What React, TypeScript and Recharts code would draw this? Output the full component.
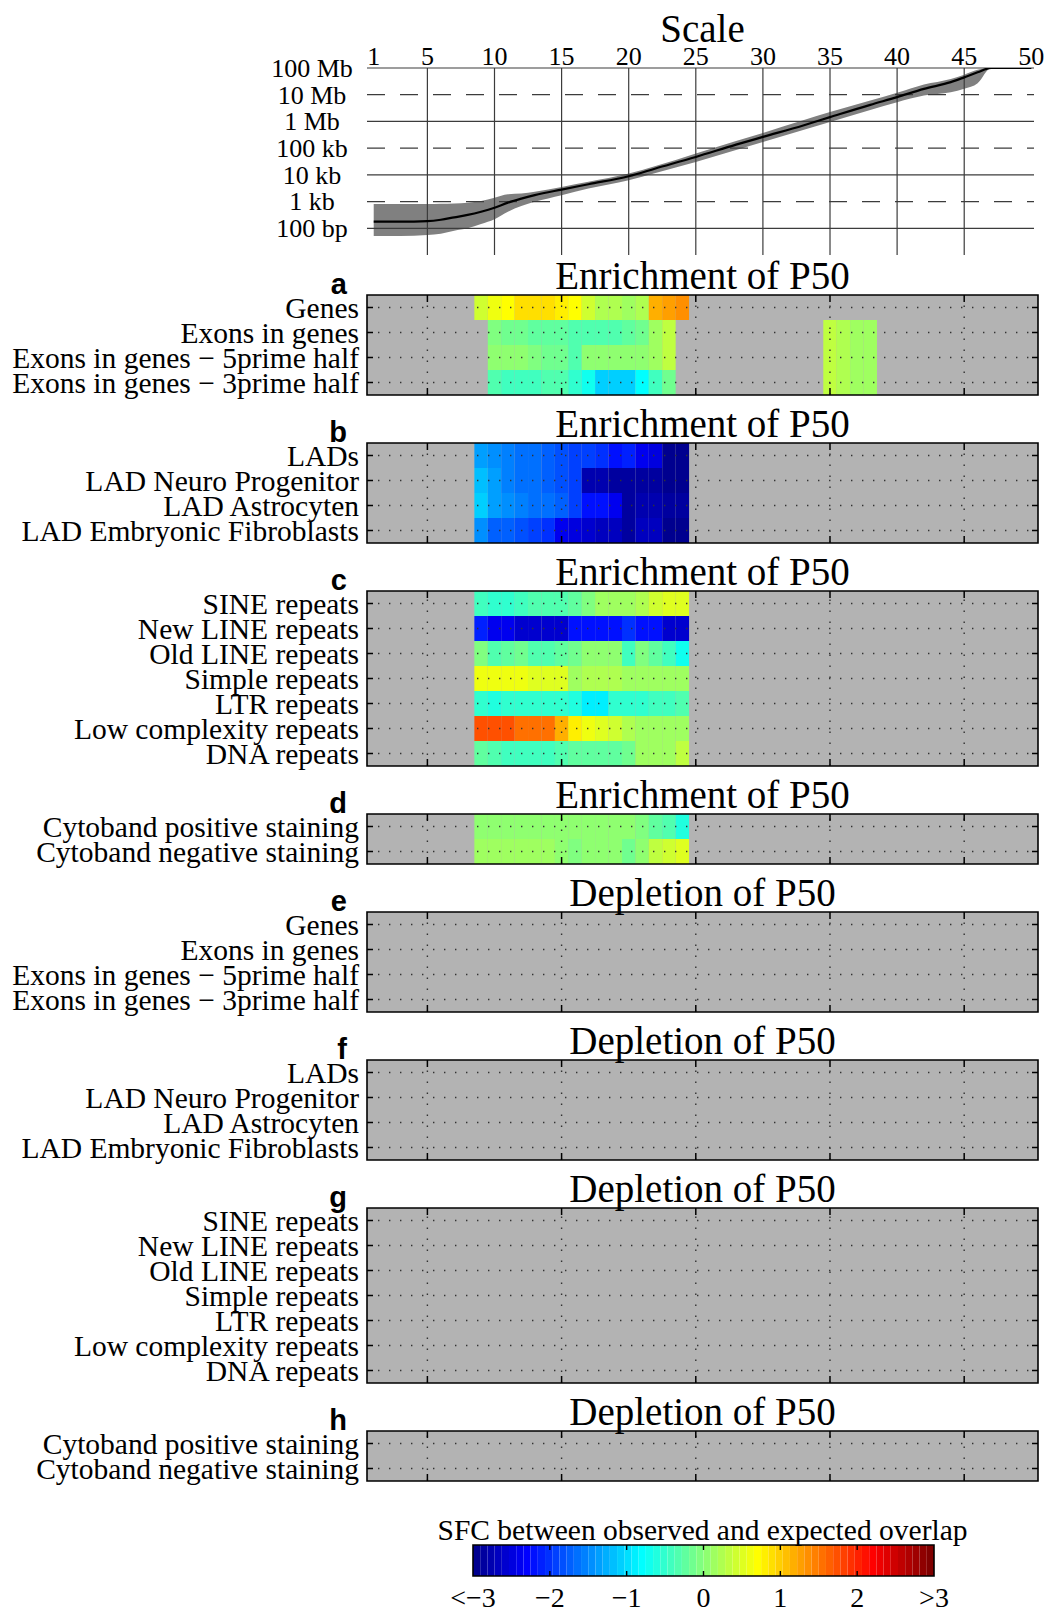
import React from "react";
import { ComposedChart, XAxis, YAxis, ReferenceArea, ReferenceLine, Area, Line } from "recharts";

// scale panel: log10(bp) of the segment size for each scale level
const scaleX = [1, 3, 5, 6, 7, 8, 9, 10, 11, 12, 13, 15, 17, 20, 22, 25, 28, 30, 33, 35, 38, 40, 42, 44, 45, 46, 47, 50];
const scaleMid = [2.25, 2.25, 2.27, 2.32, 2.41, 2.5, 2.62, 2.77, 2.96, 3.11, 3.24, 3.45, 3.65, 3.95, 4.24, 4.67, 5.13, 5.42, 5.85, 6.16, 6.62, 6.91, 7.22, 7.47, 7.65, 7.84, 8, 8];
const scaleLo = [1.71, 1.71, 1.75, 1.8, 1.91, 2.0, 2.16, 2.34, 2.62, 2.83, 2.99, 3.24, 3.49, 3.8, 4.07, 4.48, 4.93, 5.23, 5.68, 5.98, 6.43, 6.72, 6.97, 7.09, 7.22, 7.43, 8, 8];
const scaleHi = [2.91, 2.91, 2.91, 2.92, 2.93, 2.96, 3.02, 3.14, 3.27, 3.3, 3.37, 3.55, 3.74, 4.05, 4.33, 4.8, 5.27, 5.57, 6.04, 6.35, 6.78, 7.07, 7.38, 7.59, 7.75, 7.93, 8, 8];
const scaleTicksX = [1, 5, 10, 15, 20, 25, 30, 35, 40, 45, 50];
const scaleTicksY = [2, 3, 4, 5, 6, 7, 8];
const scaleTickLabels = ["100 bp", "1 kb", "10 kb", "100 kb", "1 Mb", "10 Mb", "100 Mb"];

// heatmap rows: list of [first column, values...]
type Seg = [number, number[]];
const geneLabels = ["Genes", "Exons in genes", "Exons in genes − 5prime half", "Exons in genes − 3prime half"];
const ladLabels = ["LADs", "LAD Neuro Progenitor", "LAD Astrocyten", "LAD Embryonic Fibroblasts"];
const repeatLabels = ["SINE repeats", "New LINE repeats", "Old LINE repeats", "Simple repeats", "LTR repeats", "Low complexity repeats", "DNA repeats"];
const cytoLabels = ["Cytoband positive staining", "Cytoband negative staining"];

const aGenes: Seg[] = [[9, [0.42, 0.62, 0.66, 0.86, 0.93, 0.89, 0.84, 0.66, 0.38, 0.19, 0.24, 0.15, 0.19, 1.13, 1.22, 1.35]]];
const aExons: Seg[] = [[10, [-0.05, -0.1, -0.1, -0.2, -0.25, -0.25, -0.3, -0.3, -0.3, -0.3, -0.25, -0.1, 0.1, 0.3]], [35, [0.33, 0.24, 0.15, 0.1]]];
const aExons5: Seg[] = [[10, [0, 0, 0, -0.05, -0.1, -0.1, -0.3, 0, 0, 0, 0, 0, 0.15, 0.3]], [35, [0.33, 0.24, 0.15, 0.1]]];
const aExons3: Seg[] = [[10, [-0.3, -0.4, -0.45, -0.45, -0.3, -0.35, -0.5, -0.75, -1.05, -1.1, -1.05, -0.8, -0.4, -0.1]], [35, [0.33, 0.24, 0.15, 0.1]]];

const bLads: Seg[] = [[9, [-1.35, -1.5, -1.55, -1.6, -1.68, -1.75, -1.8, -1.88, -1.95, -2.05, -2.2, -2.1, -2.43, -2.52, -2.93, -2.93]]];
const bNeuro: Seg[] = [[9, [-1.17, -1.4, -1.55, -1.6, -1.65, -1.7, -1.8, -1.9, -2.76, -2.76, -2.9, -2.9, -2.9, -2.9, -3, -3]]];
const bAstro: Seg[] = [[9, [-1.1, -1.35, -1.45, -1.55, -1.6, -1.65, -1.75, -1.9, -2.25, -2.2, -2.4, -2.85, -2.8, -2.8, -2.9, -2.9]]];
const bFibro: Seg[] = [[9, [-1.5, -1.7, -1.75, -1.85, -1.95, -2.05, -2.35, -2.5, -2.6, -2.65, -2.7, -2.85, -2.65, -2.7, -3, -3]]];

const cSine: Seg[] = [[9, [-0.4, -0.55, -0.5, -0.4, -0.3, -0.35, -0.3, -0.2, -0.05, 0.1, 0.15, 0.15, 0.25, 0.4, 0.55, 0.55]]];
const cNewLine: Seg[] = [[9, [-2.1, -2.35, -2.35, -2.6, -2.6, -2.6, -2.6, -2.2, -2.2, -2.2, -2.2, -2.05, -2.25, -2.25, -2.6, -2.6]]];
const cOldLine: Seg[] = [[9, [-0.05, -0.3, -0.2, -0.15, -0.35, -0.3, -0.25, -0.15, 0, 0, 0, -0.4, -0.05, -0.2, -0.4, -0.75]]];
const cSimple: Seg[] = [[9, [0.65, 0.65, 0.65, 0.65, 0.55, 0.5, 0.5, 0.18, 0.2, 0.2, 0.25, 0.15, 0.15, 0.15, 0.15, 0.15]]];
const cLtr: Seg[] = [[9, [-0.55, -0.6, -0.52, -0.48, -0.48, -0.48, -0.52, -0.65, -0.9, -0.9, -0.55, -0.48, -0.48, -0.4, -0.4, -0.3]]];
const cLowCx: Seg[] = [[9, [1.73, 1.73, 1.73, 1.55, 1.55, 1.55, 1.2, 0.75, 0.6, 0.5, 0.4, 0.25, 0.15, 0.15, 0.15, 0.15]]];
const cDna: Seg[] = [[9, [-0.25, -0.35, -0.4, -0.4, -0.4, -0.4, -0.35, -0.25, -0.25, -0.25, -0.2, -0.1, 0.1, 0.1, 0.1, 0.3]]];

const dPos: Seg[] = [[9, [0, 0, 0, 0, 0, 0, 0, 0, 0.05, 0.05, 0.05, 0.05, -0.05, -0.25, -0.35, -0.65]]];
const dNeg: Seg[] = [[9, [0.1, 0.1, 0.1, 0.1, 0.1, 0.1, 0.05, -0.05, 0.05, 0.05, 0.05, -0.1, 0.05, 0.3, 0.42, 0.5]]];

const scaleLevels = Array.from({ length: 50 }, (_, i) => ({ col: i + 1 }));
const colTicks = [5, 15, 25, 35, 45];
const cbTicks = [-3, -2, -1, 0, 1, 2, 3];
const cbLabels = ["<−3", "−2", "−1", "0", "1", "2", ">3"];

const panels = [
  { letter: "a", title: "Enrichment of P50", labels: geneLabels, rows: [aGenes, aExons, aExons5, aExons3] },
  { letter: "b", title: "Enrichment of P50", labels: ladLabels, rows: [bLads, bNeuro, bAstro, bFibro] },
  { letter: "c", title: "Enrichment of P50", labels: repeatLabels, rows: [cSine, cNewLine, cOldLine, cSimple, cLtr, cLowCx, cDna] },
  { letter: "d", title: "Enrichment of P50", labels: cytoLabels, rows: [dPos, dNeg] },
  { letter: "e", title: "Depletion of P50", labels: geneLabels, rows: [] as Seg[][] },
  { letter: "f", title: "Depletion of P50", labels: ladLabels, rows: [] as Seg[][] },
  { letter: "g", title: "Depletion of P50", labels: repeatLabels, rows: [] as Seg[][] },
  { letter: "h", title: "Depletion of P50", labels: cytoLabels, rows: [] as Seg[][] },
];

const SERIF = "'Liberation Serif', 'Times New Roman', serif";
const SANS = "'Liberation Sans', Arial, sans-serif";
const W = 1048;
const ROW_H = 25;
const GAP = 48;
const FIRST_TOP = 295;
const GRAY = "#b3b3b3";

// MATLAB jet(64)
function jetIndex(i: number) {
  const t = (i + 1) / 64;
  const c = (x: number) => Math.round(255 * Math.max(0, Math.min(1, x)));
  const r = c(Math.min(4 * t - 1.5, -4 * t + 4.5));
  const g = c(Math.min(4 * t - 0.5, -4 * t + 3.5));
  const b = c(Math.min(4 * t + 0.5, -4 * t + 2.5));
  return `rgb(${r},${g},${b})`;
}
const jet = (v: number) => jetIndex(Math.max(0, Math.min(63, Math.floor(((v + 3) / 6) * 64))));

const tickProps = { axisLine: false, tickLine: false, tickSize: 0, tickMargin: 0, interval: 0 as const };

function HeatPanel({ top, labels, rows }: any) {
  const n = labels.length;
  const yTicks = labels.map((_: string, i: number) => i + 1);
  const cells: { col: number; row: number; v: number }[] = [];
  rows.forEach((segs: Seg[], r: number) =>
    segs.forEach(([c0, vals]) => vals.forEach((v, k) => cells.push({ col: c0 + k, row: r + 1, v })))
  );
  const ax = { xAxisId: "b", yAxisId: "l" };
  return (
    <div style={{ position: "absolute", left: 0, top: top - 4 }}>
      <ComposedChart width={W} height={n * ROW_H + 8} data={scaleLevels} margin={{ top: 2, right: 0, bottom: 2, left: 0 }}>
        <XAxis xAxisId="b" dataKey="col" type="number" domain={[0.5, 50.5]} ticks={colTicks} allowDataOverflow height={2} {...tickProps}
          tick={(p: any) => <line x1={p.x} x2={p.x} y1={p.y} y2={p.y - 7} stroke="#000" strokeWidth={1.5} />} />
        <XAxis xAxisId="t" dataKey="col" orientation="top" type="number" domain={[0.5, 50.5]} ticks={colTicks} allowDataOverflow height={2} {...tickProps}
          tick={(p: any) => <line x1={p.x} x2={p.x} y1={p.y} y2={p.y + 7} stroke="#000" strokeWidth={1.5} />} />
        <YAxis yAxisId="l" type="number" domain={[0.5, n + 0.5]} reversed ticks={yTicks} allowDataOverflow width={367} {...tickProps}
          tick={(p: any) => (
            <g>
              <line x1={p.x} x2={p.x + 6} y1={p.y} y2={p.y} stroke="#000" strokeWidth={1.5} />
              <text x={p.x - 8} y={p.y} dy="0.34em" textAnchor="end" fontFamily={SERIF} fontSize={29.5} fill="#000">
                {labels[p.payload.value - 1]}
              </text>
            </g>
          )} />
        <YAxis yAxisId="r" orientation="right" type="number" domain={[0.5, n + 0.5]} reversed ticks={yTicks} allowDataOverflow width={10} {...tickProps}
          tick={(p: any) => <line x1={p.x} x2={p.x - 6} y1={p.y} y2={p.y} stroke="#000" strokeWidth={1.5} />} />
        <ReferenceArea {...ax} x1={0.5} x2={50.5} y1={0.5} y2={n + 0.5} fill={GRAY} fillOpacity={1} stroke="none" />
        {cells.map((c, i) => (
          <ReferenceArea key={i} {...ax} x1={c.col - 0.5} x2={c.col + 0.5} y1={c.row - 0.5} y2={c.row + 0.5}
            fill={jet(c.v)} fillOpacity={1} stroke="none" />
        ))}
        {yTicks.map((y: number) => (
          <ReferenceLine key={"h" + y} {...ax} y={y} stroke="#333" strokeWidth={1.4} strokeDasharray="1.4 9.6" />
        ))}
        {colTicks.map((x) => (
          <ReferenceLine key={"v" + x} {...ax} x={x} stroke="#333" strokeWidth={1.4} strokeDasharray="1.4 9.6" />
        ))}
        <ReferenceArea {...ax} x1={0.5} x2={50.5} y1={0.5} y2={n + 0.5} fill="none" stroke="#000" strokeWidth={1.6} />
      </ComposedChart>
    </div>
  );
}

function ScalePanel() {
  const data = scaleX.map((x, i) => ({ x, mid: scaleMid[i], lo: scaleLo[i], hi: scaleHi[i] }));
  return (
    <div style={{ position: "absolute", left: 0, top: 0 }}>
      <ComposedChart width={W} height={255} data={data} margin={{ top: 0, right: 14, bottom: 0, left: 0 }}>
        <XAxis dataKey="x" type="number" orientation="top" domain={[0.5, 50.2]} ticks={scaleTicksX} allowDataOverflow height={68} {...tickProps}
          tick={(p: any) => (
            <text x={p.x} y={p.y - 3} textAnchor="middle" fontFamily={SERIF} fontSize={26} fill="#000">{p.payload.value}</text>
          )} />
        <YAxis type="number" domain={[1, 8]} ticks={scaleTicksY} allowDataOverflow width={367} {...tickProps}
          tick={(p: any) => (
            <text x={p.x - 55} y={p.y} dy="0.34em" textAnchor="middle" fontFamily={SERIF} fontSize={26} fill="#000">
              {scaleTickLabels[p.payload.value - 2]}
            </text>
          )} />
        {scaleTicksY.map((y) => (
          <ReferenceLine key={"h" + y} y={y} stroke="#3c3c3c" strokeWidth={1.2} strokeDasharray={y % 2 === 1 ? "18 15" : undefined} />
        ))}
        {scaleTicksX.filter((x) => x > 1 && x < 50).map((x) => (
          <ReferenceLine key={"v" + x} x={x} stroke="#3c3c3c" strokeWidth={1.2} />
        ))}
        <Area type="monotone" dataKey={(d: any) => [d.lo, d.hi]} stroke="none" fill="#808080" fillOpacity={1} isAnimationActive={false} />
        <Line type="monotone" dataKey="mid" stroke="#000" strokeWidth={2.2} dot={false} isAnimationActive={false} />
      </ComposedChart>
    </div>
  );
}

function ColorBar() {
  const steps = Array.from({ length: 64 }, (_, i) => i);
  const ax = { xAxisId: "b", yAxisId: "l" };
  const data = cbTicks.map((v) => ({ v }));
  return (
    <div style={{ position: "absolute", left: 0, top: 1543 }}>
      <ComposedChart width={W} height={71} data={data} margin={{ top: 0, right: 114, bottom: 36, left: 473 }}>
        <XAxis xAxisId="b" dataKey="v" type="number" domain={[-3, 3]} ticks={cbTicks} allowDataOverflow height={2} {...tickProps}
          tick={(p: any) => (
            <g>
              {Math.abs(p.payload.value) < 3 && <line x1={p.x} x2={p.x} y1={p.y} y2={p.y - 5} stroke="#000" strokeWidth={1.4} />}
              <text x={p.x} y={p.y + 31} textAnchor="middle" fontFamily={SERIF} fontSize={28} fill="#000">
                {cbLabels[cbTicks.indexOf(p.payload.value)]}
              </text>
            </g>
          )} />
        <XAxis xAxisId="t" dataKey="v" orientation="top" type="number" domain={[-3, 3]} ticks={cbTicks} allowDataOverflow height={2} {...tickProps}
          tick={(p: any) => Math.abs(p.payload.value) < 3 ? <line x1={p.x} x2={p.x} y1={p.y} y2={p.y + 5} stroke="#000" strokeWidth={1.4} /> : <g />} />
        <YAxis yAxisId="l" hide type="number" domain={[0, 1]} allowDataOverflow />
        {steps.map((i) => (
          <ReferenceArea key={i} {...ax} x1={-3 + (i * 6) / 64} x2={-3 + ((i + 1) * 6) / 64} y1={0} y2={1}
            fill={jetIndex(i)} fillOpacity={1} stroke="none" />
        ))}
        <ReferenceArea {...ax} x1={-3} x2={3} y1={0} y2={1} fill="none" stroke="#000" strokeWidth={1.6} />
      </ComposedChart>
    </div>
  );
}

export default function App() {
  let cursor = FIRST_TOP;
  const placed = panels.map((p) => {
    const top = cursor;
    cursor += p.labels.length * ROW_H + GAP;
    return { ...p, top };
  });
  return (
    <div style={{ position: "relative", width: W, height: 1612, background: "#fff" }}>
      <style>{"body{margin:0;background:#fff}"}</style>
      <ScalePanel />
      {placed.map((p) => (
        <HeatPanel key={p.letter} {...p} />
      ))}
      <ColorBar />
      <svg width={W} height={1612} style={{ position: "absolute", left: 0, top: 0, pointerEvents: "none" }}>
        <text x={702.5} y={42} textAnchor="middle" fontFamily={SERIF} fontSize={39} fill="#000">Scale</text>
        {placed.map((p) => (
          <g key={p.letter}>
            <text x={702.5} y={p.top - 6} textAnchor="middle" fontFamily={SERIF} fontSize={39} fill="#000">{p.title}</text>
            <text x={347} y={p.top - 1} textAnchor="end" fontFamily={SANS} fontWeight="bold" fontSize={29} fill="#000">{p.letter}</text>
          </g>
        ))}
        <text x={702.5} y={1540} textAnchor="middle" fontFamily={SERIF} fontSize={29.5} fill="#000">
          SFC between observed and expected overlap
        </text>
      </svg>
    </div>
  );
}
